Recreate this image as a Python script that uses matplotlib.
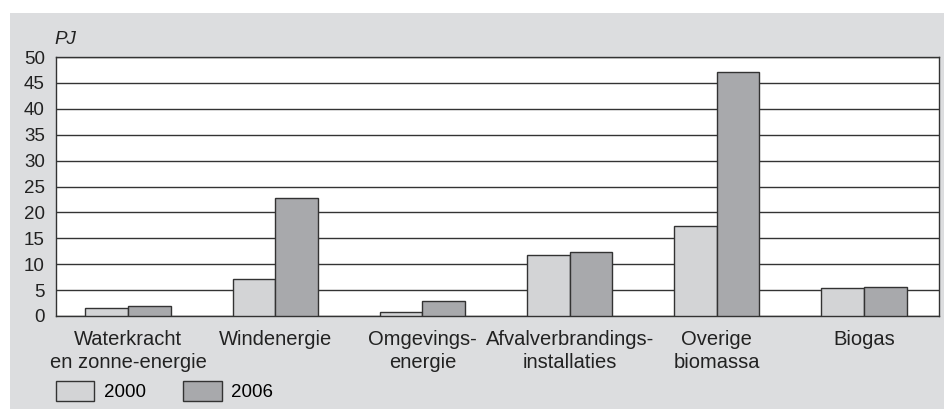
import matplotlib
matplotlib.use("Agg")
import matplotlib.pyplot as plt
from matplotlib.patches import Rectangle, Patch
import numpy as np

categories = ["Waterkracht\nen zonne-energie", "Windenergie", "Omgevings-\nenergie",
              "Afvalverbrandings-\ninstallaties", "Overige\nbiomassa", "Biogas"]
series_names = ["2000", "2006"]
values_2000 = [1.6, 7.1, 0.7, 11.7, 17.4, 5.4]
values_2006 = [2.0, 22.7, 2.9, 12.4, 47.1, 5.6]
yticks = [0, 5, 10, 15, 20, 25, 30, 35, 40, 45, 50]

plt.rcParams['font.family'] = ['Liberation Sans', 'DejaVu Sans']

W, H = 945, 409
fig = plt.figure(figsize=(W / 100, H / 100), dpi=100, facecolor="white")
bg = Rectangle((10 / W, 0), 1 - 10 / W, (H - 13) / H,
               transform=fig.transFigure, facecolor="#dcdddf",
               edgecolor="none", zorder=-10)
fig.add_artist(bg)

ax = fig.add_axes([56 / W, (H - 316) / H, (939 - 56) / W, (316 - 57) / H])
ax.set_zorder(1)
ax.set_facecolor("white")

c2000 = "#d3d4d6"
c2006 = "#a8a9ac"
edge = "#333333"
x = np.arange(len(categories))
bw = 0.29
ax.bar(x - bw / 2, values_2000, bw, color=c2000, edgecolor=edge, linewidth=1.0, zorder=3, label=series_names[0])
ax.bar(x + bw / 2, values_2006, bw, color=c2006, edgecolor=edge, linewidth=1.0, zorder=3, label=series_names[1])

ax.set_xlim(-0.49, 5.51)
ax.set_ylim(0, 50)
ax.set_yticks(yticks)
ax.set_yticklabels([str(v) for v in yticks], fontsize=13.5, color="#222222")
ax.yaxis.grid(True, color="#333333", linewidth=1.0, zorder=1)
ax.set_axisbelow(True)
ax.tick_params(axis="y", length=0, pad=8)
ax.set_xticks(x)
ax.set_xticklabels(categories, fontsize=14.5, color="#222222", linespacing=1.25)
ax.tick_params(axis="x", length=0, pad=10)
for s in ax.spines.values():
    s.set_color("#333333")
    s.set_linewidth(1.0)

fig.text(54 / W, 1 - 39 / H, "PJ", fontsize=13.5, style="italic", color="#222222",
         ha="left", va="center")

handles = [Patch(facecolor=c2000, edgecolor=edge, linewidth=1.0),
           Patch(facecolor=c2006, edgecolor=edge, linewidth=1.0)]
fig.legend(handles, series_names, loc="center left", bbox_to_anchor=(56 / W, 1 - 391 / H),
           ncol=2, frameon=False, fontsize=13.5, handlelength=2.05, handleheight=1.3,
           handletextpad=0.5, columnspacing=2.0, borderaxespad=0, borderpad=0)

fig.savefig("out.png", dpi=100, facecolor="white")
